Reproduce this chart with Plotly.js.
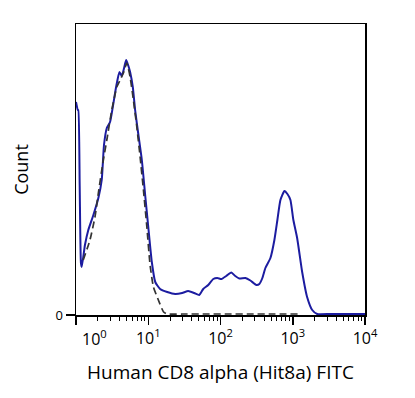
<!DOCTYPE html>
<html>
<head>
<meta charset="utf-8">
<script src="https://cdn.plot.ly/plotly-3.0.1.min.js"></script>
<style>html,body{margin:0;padding:0;background:#fff;}#chart{width:415px;height:398px;}</style>
</head>
<body>
<div id="chart"></div>
<script>
// CD8 alpha (Hit8a) FITC stained sample (solid blue)
var stainedFITC = [1.00, 1.06, 1.076, 1.125, 1.17, 1.20, 1.33, 1.48, 1.74, 2.04, 2.27, 2.44, 2.67, 2.96, 3.23, 3.59, 3.99, 4.30, 4.63, 4.94, 5.26, 5.61, 6.11, 6.58, 7.31, 8.15, 9.06, 10.1, 11.2, 12.5, 14.6, 18.3, 23.6, 29.5, 35.7, 43.3, 50.8, 57.7, 67.7, 79.4, 90.3, 103, 120, 141, 160, 182, 221, 259, 314, 345, 380, 418, 491, 557, 613, 675, 767, 844, 929, 1020, 1150, 1350, 1580, 1860, 2180, 3330, 5380, 10000];
var stainedCount = [213, 205, 205, 128, 52, 48, 70, 85, 100, 117, 135, 170, 187, 193, 208, 228, 243, 239, 247, 255, 250, 243, 228, 205, 180, 155, 120, 85, 53, 33, 26, 23, 21, 22, 24, 22, 20, 26, 30, 36, 37, 36, 39, 42.5, 39, 36.5, 37, 34.5, 30, 31, 37, 47, 57, 75, 95, 115, 124, 121, 115, 95, 77, 43, 18, 5, 1, 1, 1, 1];
// isotype control (dashed)
var controlFITC = [1.26, 1.56, 1.83, 2.04, 2.39, 2.67, 3.13, 3.67, 4.08, 4.53, 5.05, 5.61, 6.23, 6.95, 7.72, 8.58, 9.57, 10.6, 11.8, 13.8, 16.3, 18.1, 30, 60, 120, 250, 500, 1200];
var controlCount = [55, 75, 98, 122, 155, 175, 205, 228, 235, 242, 252, 238, 215, 188, 158, 125, 88, 50, 28, 15, 3, 1, 1, 1, 1, 1, 1, 1];
var xTickVals = [1, 10, 100, 1000, 10000];
var xTickText = ['', '10<sup>1</sup>', '10<sup>2</sup>', '10<sup>3</sup>', '10<sup>4</sup>'];
var firstTickText = '10<sup>0</sup>';

var minorVals = [];
for (var d = 1; d < 10000; d *= 10) {
  for (var k = 2; k <= 9; k++) minorVals.push(k * d);
}

var font = 'Open Sans, Noto Sans, sans-serif';
var traces = [
  {x: stainedFITC, y: stainedCount, type: 'scatter', mode: 'lines',
   line: {color: '#1c1ca0', width: 2, shape: 'spline', smoothing: 0.5}, hoverinfo: 'skip'},
  {x: controlFITC, y: controlCount, type: 'scatter', mode: 'lines',
   line: {color: '#333333', width: 1.7, dash: '7px,4px', shape: 'spline', smoothing: 0.5}, hoverinfo: 'skip'}
];
var layout = {
  width: 415, height: 398,
  margin: {l: 76, r: 50, t: 24, b: 83},
  paper_bgcolor: '#ffffff', plot_bgcolor: '#ffffff',
  showlegend: false,
  font: {family: font, color: '#000'},
  xaxis: {
    type: 'log', range: [0, 4], tickmode: 'array', tickvals: xTickVals, ticktext: xTickText,
    ticks: 'outside', ticklen: 8, tickwidth: 1.5, tickcolor: '#000',
    showline: true, mirror: true, linewidth: 1.5, linecolor: '#000',
    showgrid: false, zeroline: false,
    tickfont: {family: font, size: 16, color: '#000'},
    minor: {tickmode: 'array', tickvals: minorVals, ticks: 'outside', ticklen: 4, tickwidth: 1, tickcolor: '#000', showgrid: false},
    title: {text: 'Human CD8 alpha (Hit8a) FITC', font: {family: font, size: 19, color: '#000'}, standoff: 18}
  },
  yaxis: {
    range: [0, 291], tickmode: 'array', tickvals: [0], ticktext: ['0'],
    ticks: 'outside', ticklen: 9, tickwidth: 1.5, tickcolor: '#000',
    showline: true, mirror: true, linewidth: 1.5, linecolor: '#000',
    showgrid: false, zeroline: false,
    tickfont: {family: font, size: 13, color: '#000'},
    title: {text: 'Count', font: {family: font, size: 18, color: '#000'}, standoff: 22}
  },
  annotations: [
    {x: 0.25, xref: 'x', y: 0, yref: 'paper', yanchor: 'top', yshift: -9, showarrow: false,
     text: firstTickText, font: {family: font, size: 16, color: '#000'}}
  ]
};
Plotly.newPlot('chart', traces, layout, {displayModeBar: false, staticPlot: true});
</script>
</body>
</html>
